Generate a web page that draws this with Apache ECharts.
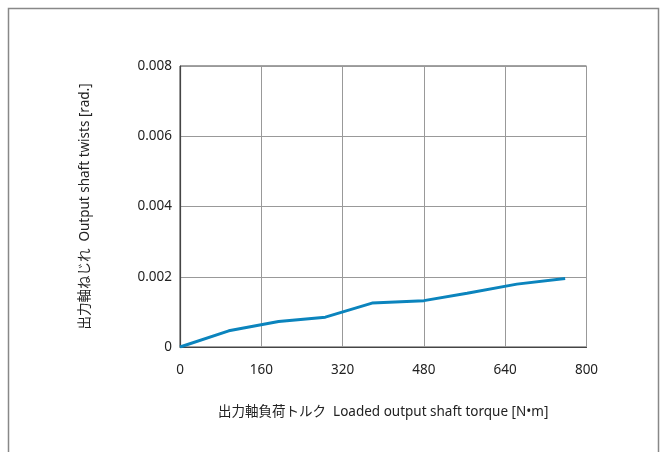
<!DOCTYPE html>
<html><head><meta charset="utf-8">
<script src="https://cdn.jsdelivr.net/npm/echarts@6/dist/echarts.min.js"></script>
<style>html,body{margin:0;padding:0;background:#fff}#c{width:667px;height:452px}</style>
</head><body><div id="c"></div>
<script>
const torque = [0, 96, 194, 286, 378, 480, 565, 663, 758];
const twist = [0, 0.00046, 0.000725, 0.00085, 0.00125, 0.00132, 0.00153, 0.00179, 0.00195];
const xTicks = [0, 160, 320, 480, 640, 800];
const yTicks = [0, 0.002, 0.004, 0.006, 0.008];
const xName = '出力軸負荷トルク  Loaded output shaft torque [N•m]';
const yName = '出力軸ねじれ  Output shaft twists [rad.]';

const font = '"Noto Sans", "Noto Sans CJK JP", sans-serif';
const chart = echarts.init(document.getElementById('c'), null, {renderer: 'canvas'});
chart.setOption({
  animation: false,
  backgroundColor: '#fff',
  graphic: [{
    type: 'rect', shape: {x: 8.5, y: 8.5, width: 650, height: 460},
    style: {fill: 'none', stroke: '#888', lineWidth: 1.5}, silent: true
  }],
  grid: {left: 180, right: 80.5, top: 66, bottom: 105, show: true, borderColor: '#444', borderWidth: 1, backgroundColor: 'transparent'},
  xAxis: {
    type: 'value', min: xTicks[0], max: xTicks[xTicks.length - 1], interval: 160,
    name: xName, nameLocation: 'middle', nameGap: 58,
    nameTextStyle: {fontFamily: font, fontSize: 13.5, color: '#222'},
    axisLine: {show: true, lineStyle: {color: '#444', width: 1.2}},
    axisTick: {show: false},
    axisLabel: {fontFamily: font, fontSize: 13.5, color: '#222', margin: 16},
    splitLine: {show: true, lineStyle: {color: '#999', width: 1}}
  },
  yAxis: {
    type: 'value', min: yTicks[0], max: yTicks[yTicks.length - 1], interval: 0.002,
    name: yName, nameLocation: 'middle', nameGap: 88,
    nameTextStyle: {fontFamily: font, fontSize: 13.5, color: '#222'},
    axisLine: {show: true, lineStyle: {color: '#444', width: 1.2}},
    axisTick: {show: false},
    axisLabel: {fontFamily: font, fontSize: 13.5, color: '#222', margin: 8,
      formatter: v => v === 0 ? '0' : v.toFixed(3)},
    splitLine: {show: true, lineStyle: {color: '#999', width: 1}}
  },
  series: [{
    type: 'line', data: torque.map((t, i) => [t, twist[i]]),
    showSymbol: false, symbol: 'none',
    lineStyle: {color: '#0b84bd', width: 3}
  }]
});
</script></body></html>
